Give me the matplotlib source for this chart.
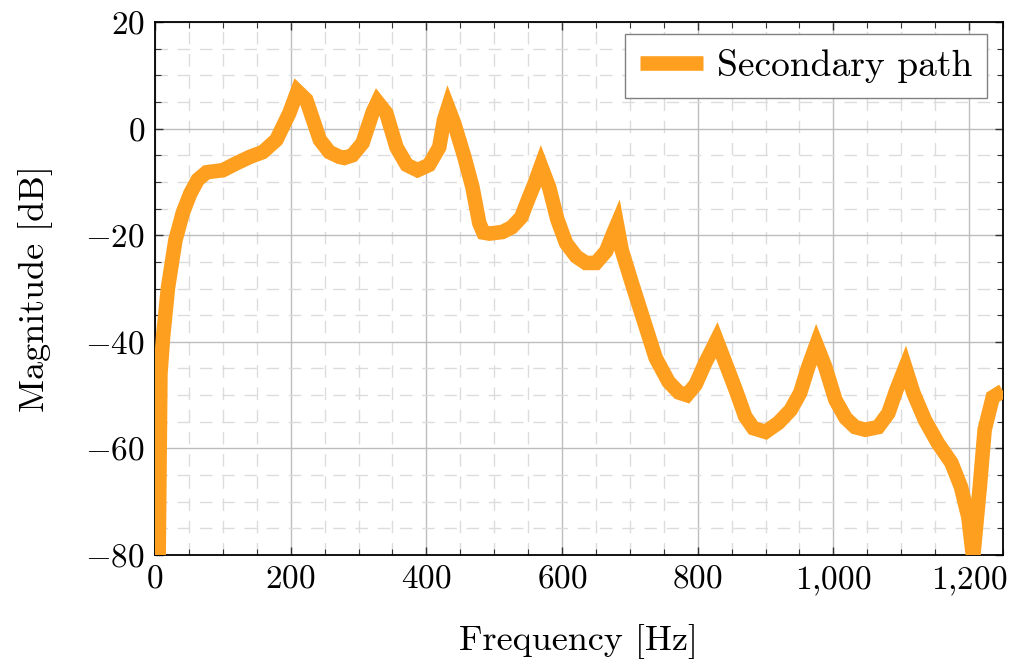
import matplotlib
matplotlib.use("Agg")
import matplotlib.pyplot as plt
from matplotlib.ticker import MultipleLocator, FuncFormatter

# frequency response
freq_hz = [0, 8, 12, 19, 30, 41, 52, 63, 76, 100, 120, 140, 159, 179, 198, 210,
           223, 243, 257, 272, 279, 291, 306, 321, 328, 341, 356, 371, 387, 404,
           419, 426, 432, 441, 456, 468, 478, 484, 493, 512, 526, 540, 551, 559,
           569, 581, 593, 606, 621, 635, 650, 665, 676, 681, 688, 703, 718, 738,
           757, 772, 784, 797, 811, 821, 828, 841, 856, 870, 882, 900, 919, 937,
           951, 963, 975, 988, 1003, 1018, 1032, 1047, 1066, 1081, 1093, 1106,
           1118, 1135, 1154, 1174, 1188, 1199, 1206, 1216, 1223, 1235, 1250]
mag_db = [-150, -46, -39, -30, -21, -15.8, -12.2, -9.6, -8.2, -7.8, -6.5, -5.3, -4.4,
          -2.1, 2.9, 7.0, 5.4, -2.1, -4.4, -5.3, -5.5, -5.0, -2.7, 3.1, 5.0, 2.9,
          -3.5, -6.8, -7.8, -6.8, -3.5, 1.6, 4.0, 1.0, -5.3, -11, -17.7, -19.5,
          -19.7, -19.4, -18.5, -16.6, -13, -10.5, -7.0, -11, -17, -21.5, -24,
          -25.2, -25.2, -23, -19.5, -18, -22.8, -29, -35, -43, -47.5, -49.5, -50,
          -48, -44, -41.5, -39.7, -44, -49, -54, -56.2, -56.9, -55.2, -52.8,
          -49.6, -44.7, -40.5, -44.7, -50.9, -54.3, -56, -56.5, -56, -53.4, -49,
          -44.8, -49.6, -54.7, -59, -62.7, -67.2, -72.9, -80.5, -67, -56.5, -50.4,
          -49.2]

plt.rcParams['mathtext.fontset'] = 'cm'
plt.rcParams['font.family'] = 'serif'
plt.rcParams['font.serif'] = ['cmr10', 'DejaVu Serif']
plt.rcParams['axes.formatter.use_mathtext'] = True
plt.rcParams['axes.unicode_minus'] = False


def tick_fmt(v, pos):
	s = "{:,.0f}".format(v).replace(",", "{,}")
	if v < 0:
		s = "-" + s[1:]
	return "$" + s + "$"


fig = plt.figure(figsize=(10.17, 6.63), dpi=100)
ax = fig.add_axes([0.1524, 0.1629, 0.8338, 0.8039])

ax.plot(freq_hz, mag_db, color='#FF9F1F', lw=10.5, solid_joinstyle='miter',
		solid_capstyle='butt', label='Secondary path', zorder=3)

ax.set_xlim(0, 1250)
ax.set_ylim(-80, 20)
ax.xaxis.set_major_locator(MultipleLocator(200))
ax.xaxis.set_minor_locator(MultipleLocator(50))
ax.yaxis.set_major_locator(MultipleLocator(20))
ax.yaxis.set_minor_locator(MultipleLocator(5))
ax.xaxis.set_major_formatter(FuncFormatter(tick_fmt))
ax.yaxis.set_major_formatter(FuncFormatter(tick_fmt))

ax.grid(which='major', color='#BDBDBD', lw=1.0, zorder=0)
ax.grid(which='minor', color='#DCDCDC', lw=1.0, dashes=(9, 7), zorder=0)
ax.set_axisbelow(True)

ax.tick_params(which='both', direction='in', top=True, right=True, color='#333333',
			   labelsize=24, pad=7)
ax.tick_params(which='major', length=6, width=1)
ax.tick_params(which='minor', length=4, width=0.8)
for sp in ax.spines.values():
	sp.set_linewidth(1.3)

ax.set_xlabel('Frequency [Hz]', fontsize=26, labelpad=19)
ax.set_ylabel('Magnitude [dB]', fontsize=26, labelpad=23)

leg = ax.legend(loc='upper right', fontsize=27, fancybox=False, framealpha=1,
				edgecolor='#808080', handlelength=1.7, handletextpad=0.35,
				borderpad=0.4, borderaxespad=0, bbox_to_anchor=(0.981, 0.977))
leg.get_frame().set_linewidth(1.0)

fig.savefig('out.png', dpi=100)
